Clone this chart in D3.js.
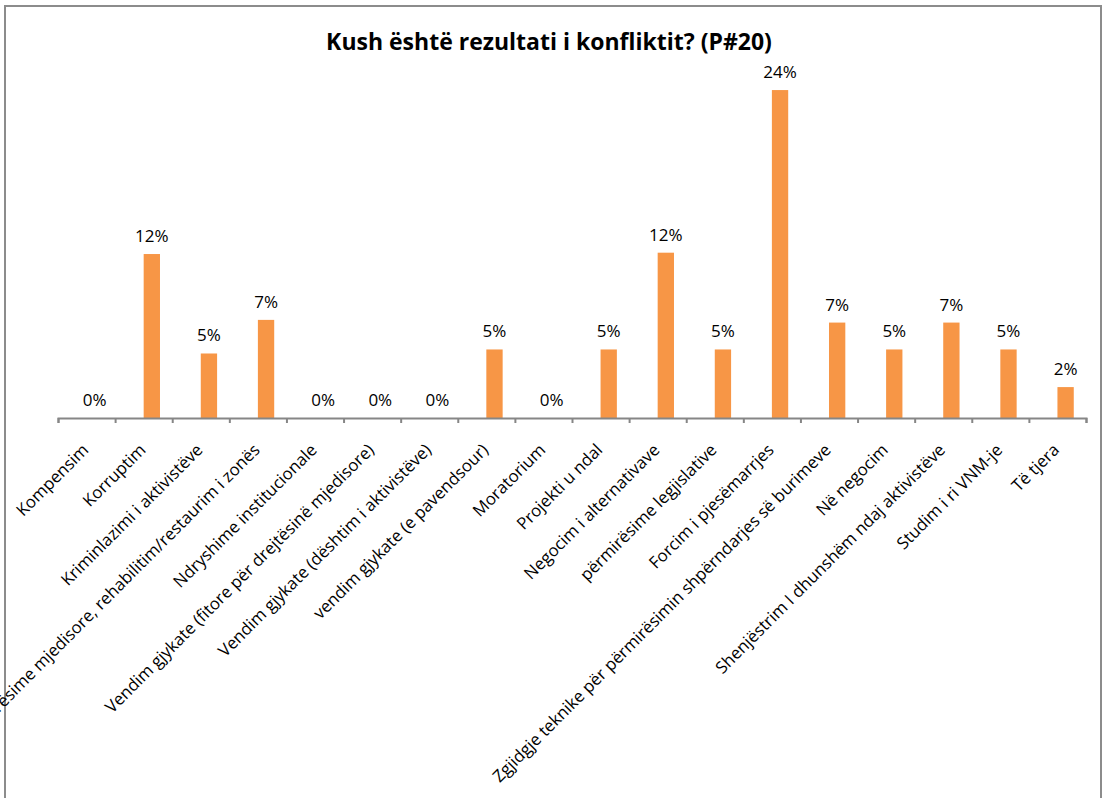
<!DOCTYPE html>
<html>
<head>
<meta charset="utf-8">
<script src="https://cdn.jsdelivr.net/npm/d3@7"></script>
<style>
  body { margin: 0; background: #fff; }
  text { font-family: "Open Sans", sans-serif; fill: #000; }
</style>
</head>
<body>
<div id="chart"></div>
<script>
// categories and values (percent)
const categories = [
  "Kompensim",
  "Korruptim",
  "Kriminlazimi i aktivistëve",
  "Përmirësime mjedisore, rehabilitim/restaurim i zonës",
  "Ndryshime institucionale",
  "Vendim gjykate (fitore për drejtësinë mjedisore)",
  "Vendim gjykate (dështim i aktivistëve)",
  "vendim gjykate (e pavendsour)",
  "Moratorium",
  "Projekti u ndal",
  "Negocim i alternativave",
  "përmirësime legjislative",
  "Forcim i pjesëmarrjes",
  "Zgjidgje teknike për përmirësimin shpërndarjes së burimeve",
  "Në negocim",
  "Shenjëstrim I dhunshëm ndaj aktivistëve",
  "Studim i ri VNM-je",
  "Të tjera"
];
const values = [0, 12.2, 4.8, 7.3, 0, 0, 0, 5.1, 0, 5.1, 12.3, 5.1, 24.4, 7.1, 5.1, 7.1, 5.1, 2.3];
const title = "Kush është rezultati i konfliktit? (P#20)";

const width = 1104, height = 798;
const plot = {left: 58, right: 1086, base: 418, top: 82};

const svg = d3.select("#chart")
  .append("svg")
    .attr("width", width)
    .attr("height", height);

// outer frame
svg.append("rect")
  .attr("x", 5).attr("y", 6)
  .attr("width", 1096).attr("height", 810)
  .attr("fill", "none")
  .attr("stroke", "#8c8c8c")
  .attr("stroke-width", 2);

// title
svg.append("text")
  .attr("x", 549)
  .attr("y", 50)
  .attr("text-anchor", "middle")
  .style("font-weight", "bold")
  .style("font-size", "23px")
  .text(title);

const xScale = d3.scaleBand()
  .domain(categories)
  .range([plot.left, plot.right])
  .padding(0);

// tick positions sit on category boundaries
const xIndex = d3.scaleLinear()
  .domain([0, categories.length])
  .range([plot.left, plot.right]);

const yScale = d3.scaleLinear()
  .domain([0, 25])
  .range([plot.base, plot.top]);

// two series per category in the original, the first one empty
const barW = xScale.bandwidth() / 3.5;
const barX = d => xScale(d.cat) + xScale.bandwidth() / 2;

const data = categories.map((c, i) => ({cat: c, value: values[i]}));

svg.selectAll(".bar")
  .data(data)
  .enter()
  .append("rect")
    .attr("class", "bar")
    .attr("x", barX)
    .attr("y", d => yScale(d.value))
    .attr("width", barW)
    .attr("height", d => plot.base - yScale(d.value))
    .attr("fill", "#f79646");

// value labels
svg.selectAll(".val")
  .data(data)
  .enter()
  .append("text")
    .attr("class", "val")
    .attr("x", d => barX(d) + barW / 2)
    .attr("y", d => yScale(d.value) - 12)
    .attr("text-anchor", "middle")
    .style("font-size", "17px")
    .text(d => Math.round(d.value) + "%");

// x axis
const xAxis = svg.append("g")
  .attr("class", "x-axis")
  .attr("transform", "translate(0," + plot.base + ")")
  .call(d3.axisBottom(xIndex)
    .tickValues(d3.range(categories.length + 1))
    .tickSize(5)
    .tickFormat(""));
xAxis.select(".domain").attr("stroke", "#868686").attr("stroke-width", 2);
xAxis.selectAll(".tick line").attr("stroke", "#868686").attr("stroke-width", 2);

// rotated category labels
svg.selectAll(".cat")
  .data(data)
  .enter()
  .append("text")
    .attr("class", "cat")
    .attr("text-anchor", "end")
    .style("font-size", "16.8px")
    .attr("transform", d => "translate(" + (xScale(d.cat) + xScale.bandwidth() / 2 + 3) + "," + (plot.base + 33) + ") rotate(-45)")
    .text(d => d.cat);
</script>
</body>
</html>
